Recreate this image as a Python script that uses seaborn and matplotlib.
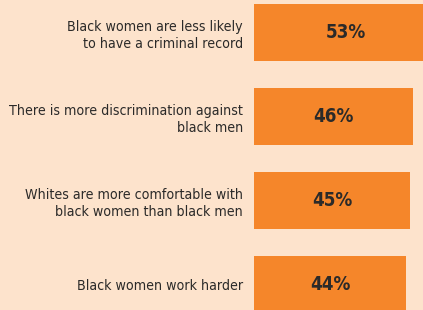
import matplotlib
matplotlib.use('Agg')
import matplotlib.pyplot as plt
import seaborn as sns
import pandas as pd

# ─── Data ─────────────────────────────────────────────────────────────────────
statements = [
    "Black women are less likely\nto have a criminal record",
    "There is more discrimination against\nblack men",
    "Whites are more comfortable with\nblack women than black men",
    "Black women work harder",
]
shares = [53, 46, 45, 44]

BG     = "#fde3cc"
ORANGE = "#f5862a"
TEXT   = "#2b2a29"

sns.set_theme(style="white")
plt.rcParams['font.family'] = ['DejaVu Sans']
plt.rcParams['font.stretch'] = 'condensed'

df = pd.DataFrame({"statement": statements, "share": shares})

fig = plt.figure(figsize=(4.23, 3.10), dpi=100, facecolor=BG)
ax = fig.add_axes([254 / 423, 0, 1 - 254 / 423, 1])
ax.set_facecolor(BG)

sns.barplot(data=df, x="share", y="statement", orient="h", color=ORANGE,
            saturation=1, width=0.68, linewidth=0, ax=ax)

ax.set_xlim(0, 48.85)
ax.set_ylim(3.304, -0.387)

for i, v in enumerate(shares):
    ax.text(v / 2, i, f"{v}%", ha="center", va="center",
            fontsize=13.5, fontweight="bold", color=TEXT)

ax.set_xlabel("")
ax.set_ylabel("")
ax.set_xticks([])
ax.tick_params(axis="y", length=0, pad=8, labelsize=10.2, labelcolor=TEXT)
for lbl in ax.get_yticklabels():
    lbl.set_linespacing(1.25)
for s in ax.spines.values():
    s.set_visible(False)

fig.savefig("out.png", dpi=100, facecolor=BG)
